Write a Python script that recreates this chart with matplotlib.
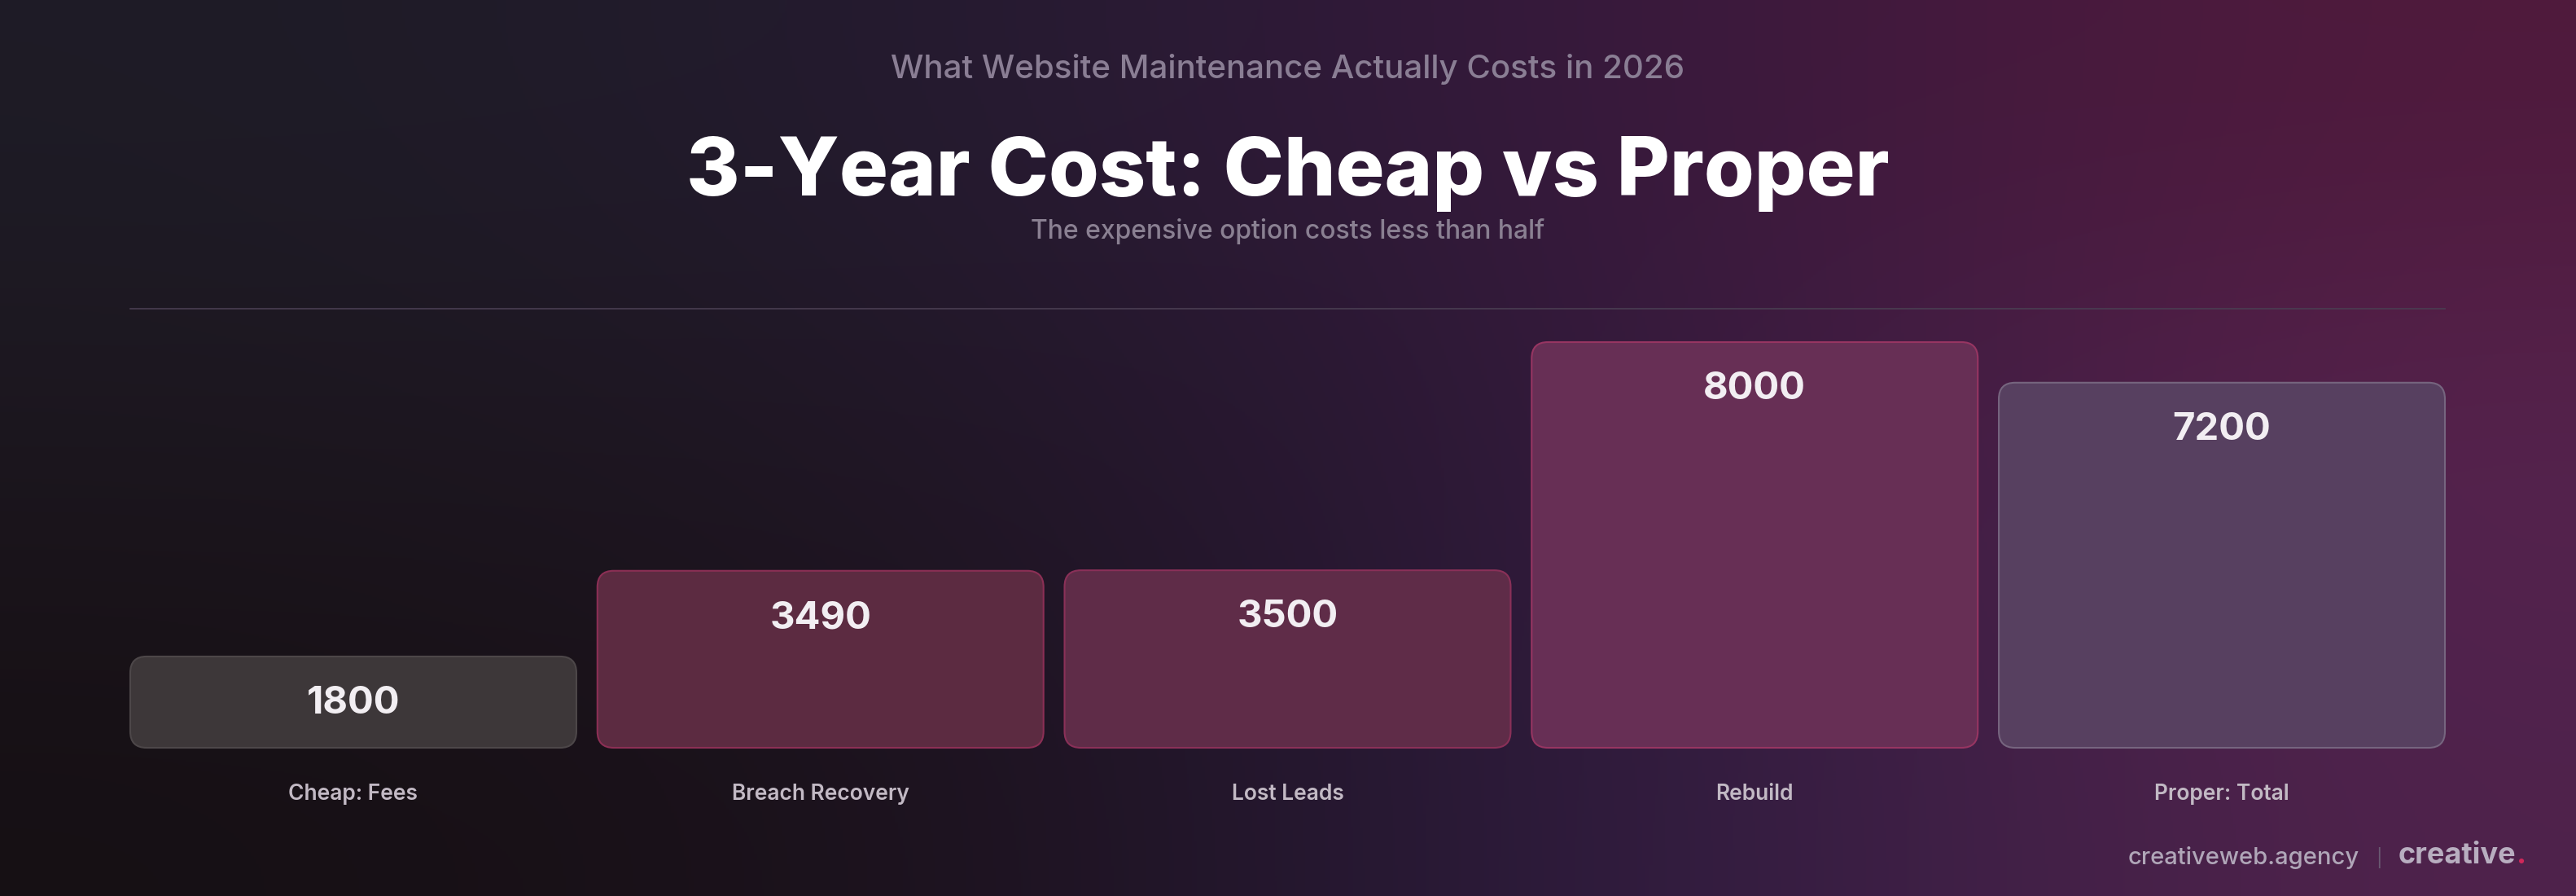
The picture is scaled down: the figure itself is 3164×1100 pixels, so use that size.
import numpy as np
import matplotlib.pyplot as plt
from matplotlib.patches import FancyBboxPatch

categories = ["Cheap: Fees", "Breach Recovery", "Lost Leads", "Rebuild", "Proper: Total"]
values = [1800, 3490, 3500, 8000, 7200]

fill_colors = ["#3d3739", "#5c2b41", "#5f2c48", "#672f55", "#574060"]
edge_colors = ["#4d4749", "#8c2f55", "#8a3058", "#973562", "#76657f"]

W, H = 3164, 1100
fig = plt.figure(figsize=(W / 100, H / 100), dpi=100)

# background gradient
bg = fig.add_axes([0, 0, 1, 1])
grid = np.array([
    [(30, 28, 38), (36, 27, 48), (55, 25, 62), (80, 26, 60)],
    [(28, 22, 30), (31, 22, 36), (48, 25, 60), (88, 36, 80)],
    [(22, 16, 20), (28, 18, 28), (44, 28, 64), (80, 35, 76)],
]) / 255.0
bg.imshow(grid, aspect="auto", interpolation="bicubic", extent=[0, 1, 0, 1])
bg.set_xlim(0, 1)
bg.set_ylim(0, 1)
bg.axis("off")

# divider line
bg.plot([160 / W, 3003 / W], [1 - 379 / H, 1 - 379 / H], color="#4a3e52", lw=1.2)

fam = ["Inter", "DejaVu Sans"]
fig.text(0.5, 1 - 85 / H, "What Website Maintenance Actually Costs in 2026",
         ha="center", va="center", fontsize=29, color="#8a7e94", family=fam, fontweight="medium")
fig.text(0.5, 1 - 214 / H, "3-Year Cost: Cheap vs Proper",
         ha="center", va="center", fontsize=72, color="white", family=fam, fontweight="heavy")
fig.text(0.5, 1 - 284 / H, "The expensive option costs less than half",
         ha="center", va="center", fontsize=23, color="#8a8092", family=fam, fontweight="medium")

# bars
ax = fig.add_axes([160 / W, 1 - 918 / H, (3003 - 160) / W, 498 / H])
ax.patch.set_alpha(0)
bw = 0.955
x = np.arange(len(values))
bars = ax.bar(x, values, width=bw, color="none", edgecolor="none")
ax.set_xlim(-bw / 2, len(values) - 1 + bw / 2)
ax.set_ylim(0, 8000)
ax.axis("off")

# rounded bars drawn over the plain ones
px_x = (3003 - 160) / (len(values) - 1 + bw)
px_y = 498 / 8000
r = 20 / px_x
aspect = px_x / px_y
for b, fc, ec, v, cat in zip(bars, fill_colors, edge_colors, values, categories):
    p = FancyBboxPatch((b.get_x(), 0), b.get_width(), b.get_height(),
                       boxstyle=f"round,pad=0,rounding_size={r}",
                       mutation_aspect=aspect, facecolor=fc, edgecolor=ec,
                       lw=1.5, clip_on=False)
    ax.add_patch(p)
    ax.annotate(str(v), (b.get_x() + b.get_width() / 2, v), xytext=(0, -42),
                textcoords="offset points", ha="center", va="center",
                fontsize=34, fontweight="bold", color="#f2eef2", family=fam)
    ax.annotate(cat, (b.get_x() + b.get_width() / 2, 0), xytext=(0, -41),
                textcoords="offset points", ha="center", va="center",
                fontsize=19, fontweight="semibold", color="#c2b9c4", family=fam)

# footer
fig.text(2898 / W, 1 - 1053 / H, "creativeweb.agency", ha="right", va="center",
         fontsize=21, color="#b0a6b8", family=fam, fontweight="medium")
fig.text(2922 / W, 1 - 1053 / H, "|", ha="center", va="center",
         fontsize=16, color="#6a5a72", family=fam)
t = fig.text(2946 / W, 1 - 1050 / H, "creative", ha="left", va="center",
             fontsize=26, color="#b8aec0", family=fam, fontweight="bold")
bg.annotate(".", xy=(1, 0), xycoords=t, xytext=(0, 0), textcoords="offset points",
            ha="left", va="bottom", fontsize=26, color="#d0285a",
            family=fam, fontweight="bold")

fig.savefig("out.png", dpi=100)
